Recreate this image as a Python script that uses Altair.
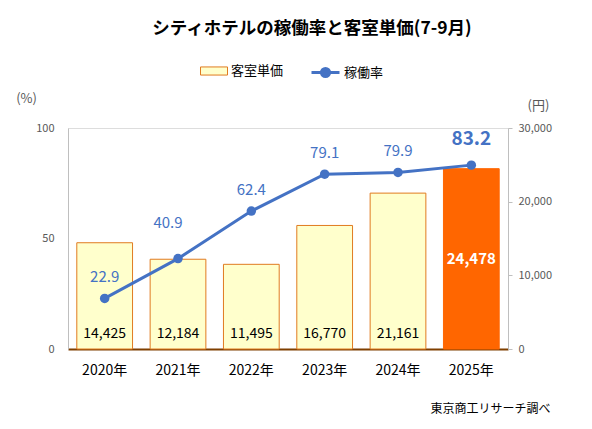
import altair as alt
import pandas as pd

years = ["2020年", "2021年", "2022年", "2023年", "2024年", "2025年"]
price = [14425, 12184, 11495, 16770, 21161, 24478]
occupancy = [22.9, 40.9, 62.4, 79.1, 79.9, 83.2]
price_ticks = [0, 10000, 20000, 30000]
occ_ticks = [0, 50, 100]

FONT = "Noto Sans CJK JP"
BLUE = "#4472C4"
ORANGE = "#FF6600"
BAR_FILL = "#FFFFCC"
BAR_STROKE = "#E07B20"

df = pd.DataFrame({
    "year": years,
    "price": price,
    "occ": occupancy,
    "s_bar": ["客室単価"] * len(years),
    "s_line": ["稼働率"] * len(years),
})

base = alt.Chart(df)

x = alt.X(
    "year:N",
    sort=years,
    scale=alt.Scale(paddingInner=0.24, paddingOuter=0.12),
    axis=alt.Axis(
        title="東京商工リサーチ調べ",
        titleX=482, titleY=59, titleAlign="right", titleBaseline="middle",
        titleFontSize=12, titleFontWeight="normal", titleColor="#000000",
        titleFont=FONT,
        labelAngle=0, labelFontSize=14, labelColor="#000000", labelFont=FONT,
        labelPadding=14, ticks=False, domainColor="#7F3F00", domainWidth=2,
    ),
)

bar_fill = alt.condition(
    alt.datum.year == "2025年",
    alt.value(ORANGE),
    alt.Fill(
        "s_bar:N",
        scale=alt.Scale(range=[BAR_FILL]),
        legend=alt.Legend(
            title=None, orient="none", legendX=132, legendY=-71,
            symbolType="M-1,-0.3H1V0.3H-1Z", symbolSize=729,
            symbolStrokeColor=BAR_STROKE, symbolStrokeWidth=1,
            labelFontSize=13, labelFont=FONT, labelColor="#000000",
            labelOffset=3,
        ),
    ),
)

price_axis = alt.Axis(
    orient="right", values=price_ticks, labelExpr="format(datum.value, ',')",
    grid=False,
    title="(円)", titleAngle=0, titleX=30, titleY=-23,
    titleAlign="center", titleBaseline="middle",
    titleFontSize=13, titleFontWeight="normal", titleColor="#595959",
    titleFont=FONT,
    labelFontSize=11, labelColor="#595959", labelFont=FONT,
    tickSize=4, tickColor="#BFBFBF", domainColor="#BFBFBF",
    labelPadding=6,
)

bars = base.mark_bar(strokeWidth=1).encode(
    x=x,
    y=alt.Y("price:Q", scale=alt.Scale(domain=[0, 30000], nice=False), axis=price_axis),
    fill=bar_fill,
    stroke=alt.condition(alt.datum.year == "2025年", alt.value(ORANGE), alt.value(BAR_STROKE)),
)

bar_labels = base.transform_filter(alt.datum.year != "2025年").mark_text(
    dy=-15, fontSize=14, font=FONT, color="#000000", baseline="middle"
).encode(
    x=x,
    y=alt.datum(0),
    text=alt.Text("price:Q", format=","),
)

last_label = base.transform_filter(alt.datum.year == "2025年").transform_calculate(
    mid="datum.price / 2"
).mark_text(
    fontSize=15, fontWeight="bold", font=FONT, color="#FFFFFF", baseline="middle"
).encode(
    x=x,
    y=alt.Y("mid:Q", axis=price_axis),
    text=alt.Text("price:Q", format=","),
)

bar_layer = alt.layer(bars, bar_labels, last_label)

y_occ = alt.Y(
    "occ:Q",
    scale=alt.Scale(domain=[0, 100], nice=False),
    axis=alt.Axis(
        orient="left", values=occ_ticks, grid=False, ticks=False,
        title="(%)", titleAngle=0, titleX=-42, titleY=-30,
        titleAlign="center", titleBaseline="middle",
        titleFontSize=13, titleFontWeight="normal", titleColor="#595959",
        titleFont=FONT,
        labelFontSize=11, labelColor="#595959", labelFont=FONT,
        domainColor="#BFBFBF", labelPadding=14,
    ),
)

line = base.mark_line(strokeWidth=3).encode(
    x=x,
    y=y_occ,
    stroke=alt.Stroke(
        "s_line:N",
        scale=alt.Scale(range=[BLUE]),
        legend=alt.Legend(
            title=None, orient="none", legendX=242, legendY=-71,
            symbolType="M-1,0H1M-0.29,0A0.29,0.29 0 1 0 0.29,0A0.29,0.29 0 1 0 -0.29,0Z",
            symbolSize=784, symbolFillColor=BLUE, symbolStrokeWidth=3,
            labelFontSize=13, labelFont=FONT, labelColor="#000000",
            labelOffset=3,
        ),
    ),
)

points = base.mark_circle(size=90, color=BLUE, opacity=1).encode(x=x, y=y_occ)

occ_text = alt.Text("occ:Q", format=".1f")

occ_labels = base.transform_filter(
    (alt.datum.year != "2021年") & (alt.datum.year != "2025年")
).mark_text(dy=-21, fontSize=15, font=FONT, color=BLUE, baseline="middle").encode(
    x=x, y=y_occ, text=occ_text
)

occ_label_2021 = base.transform_filter(alt.datum.year == "2021年").mark_text(
    dy=-36, dx=-10, fontSize=15, font=FONT, color=BLUE, baseline="middle"
).encode(x=x, y=y_occ, text=occ_text)

occ_label_last = base.transform_filter(alt.datum.year == "2025年").mark_text(
    dy=-26, fontSize=19, fontWeight="bold", font=FONT, color=BLUE, baseline="middle"
).encode(x=x, y=y_occ, text=occ_text)

line_layer = alt.layer(line, points, occ_labels, occ_label_2021, occ_label_last)

chart = alt.layer(bar_layer, line_layer).resolve_scale(
    y="independent"
).properties(
    width=440,
    height=221,
    padding={"left": 60, "top": 120, "right": 76, "bottom": 70},
    autosize=alt.AutoSizeParams(type="none"),
    title=alt.TitleParams(
        text="シティホテルの稼働率と客室単価(7-9月)",
        fontSize=17.5, fontWeight="bold", font=FONT, color="#000000",
        anchor="middle", dx=24, offset=20,
    ),
).configure_view(stroke=None).configure(font=FONT)

chart.save("out.html", embed_options={"renderer": "svg", "actions": False})
